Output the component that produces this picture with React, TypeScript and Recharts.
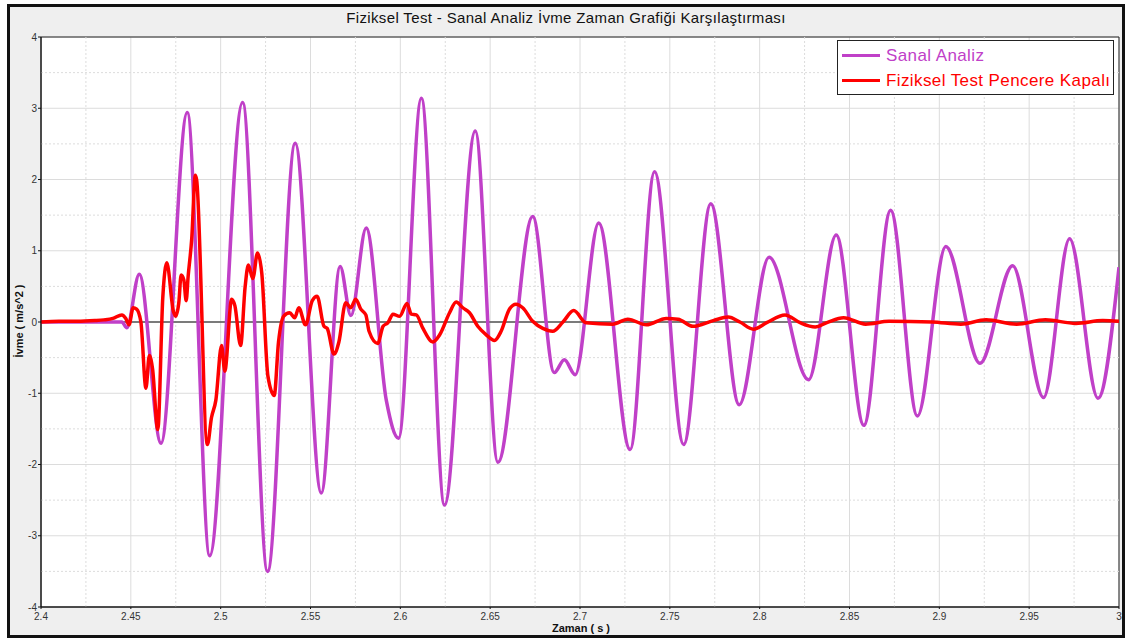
import React from 'react';
import {
  LineChart,
  Line,
  XAxis,
  YAxis,
  CartesianGrid,
  ReferenceLine,
  ReferenceArea,
} from 'recharts';

// Sanal Analiz (simulation) - time [s], acceleration [m/s^2]
const sanalTime = [
  2.4, 2.43, 2.445, 2.4478, 2.4547, 2.4668, 2.4814, 2.4939, 2.5122, 2.5261,
  2.5415, 2.556, 2.5665, 2.5725, 2.581, 2.5922, 2.599, 2.6117, 2.6246, 2.6417,
  2.6543, 2.6737, 2.6857, 2.6913, 2.6973, 2.7104, 2.7279, 2.7415, 2.7577, 2.7728,
  2.7886, 2.8052, 2.8272, 2.8426, 2.858, 2.8729, 2.8878, 2.9036, 2.9226, 2.9408,
  2.958, 2.9725, 2.9883, 3.0,
];
const sanalAccel = [
  0, 0, 0, -0.08, 0.67, -1.7, 2.94, -3.28, 3.08, -3.5,
  2.51, -2.4, 0.78, 0.09, 1.32, -1.1, -1.63, 3.14, -2.57, 2.68,
  -1.97, 1.48, -0.71, -0.53, -0.74, 1.39, -1.79, 2.11, -1.72, 1.66,
  -1.16, 0.91, -0.81, 1.22, -1.45, 1.57, -1.32, 1.06, -0.58, 0.79,
  -1.06, 1.17, -1.07, 0.77,
];

// Fiziksel Test Pencere Kapalı (physical test)
const testTime = [
  2.4, 2.41, 2.42, 2.43, 2.435, 2.44, 2.445, 2.4472, 2.449, 2.4513,
  2.4532, 2.4556, 2.4584, 2.4603, 2.4621, 2.465, 2.4678, 2.47, 2.4737, 2.4749,
  2.4767, 2.478, 2.4795, 2.4808, 2.4819, 2.4839, 2.4859, 2.4866, 2.4926, 2.4949,
  2.4973, 2.5005, 2.5023, 2.5061, 2.5079, 2.5111, 2.5136, 2.5154, 2.5179, 2.5205,
  2.5229, 2.5263, 2.5298, 2.5322, 2.535, 2.5384, 2.5412, 2.5435, 2.5472, 2.551,
  2.5537, 2.5575, 2.5593, 2.5631, 2.5658, 2.5696, 2.5724, 2.5752, 2.578, 2.5808,
  2.5826, 2.5874, 2.5904, 2.5931, 2.5959, 2.5996, 2.6037, 2.6061, 2.6089, 2.6126,
  2.6181, 2.6219, 2.6274, 2.6311, 2.6348, 2.6385, 2.6431, 2.6478, 2.6524, 2.6561,
  2.6607, 2.6644, 2.6681, 2.6737, 2.6793, 2.6848, 2.6905, 2.6965, 2.7034, 2.7182,
  2.7266, 2.7369, 2.748, 2.7546, 2.7629, 2.7741, 2.7825, 2.789, 2.7965, 2.8039,
  2.8141, 2.8225, 2.8309, 2.8374, 2.8467, 2.859, 2.872, 2.896, 2.912, 2.926,
  2.943, 2.959, 2.976, 2.991, 3.0,
];
const testAccel = [
  0, 0.01, 0.01, 0.02, 0.03, 0.05, 0.1, 0.05, -0.04, 0.2,
  0.18, 0, -0.93, -0.47, -0.66, -1.51, 0.35, 0.83, 0.15, 0.08,
  0.27, 0.66, 0.59, 0.3, 0.64, 1.17, 2.06, 2.0, -1.72, -1.34,
  -1.1, -0.33, -0.69, 0.32, 0.23, -0.33, 0.49, 0.8, 0.61, 0.97,
  0.68, -0.76, -1.03, -0.28, 0.08, 0.13, 0.06, 0.2, -0.04, 0.3,
  0.36, -0.06, -0.09, -0.45, -0.28, 0.27, 0.2, 0.32, 0.18, 0.1,
  -0.13, -0.3, -0.06, -0.01, 0.11, 0.08, 0.26, 0.11, 0.1, -0.09,
  -0.28, -0.18, 0.13, 0.28, 0.2, 0.13, -0.06, -0.18, -0.26, -0.13,
  0.18, 0.25, 0.2, 0.01, -0.09, -0.13, 0.0, 0.16, -0.01, -0.03,
  0.04, -0.04, 0.05, 0.04, -0.06, 0.02, 0.07, 0, -0.1, -0.01,
  0.1, -0.01, -0.07, -0.01, 0.06, -0.03, 0.01, 0, -0.03, 0.03,
  -0.03, 0.03, -0.02, 0.02, 0.01,
];

const xTicks = [2.4, 2.45, 2.5, 2.55, 2.6, 2.65, 2.7, 2.75, 2.8, 2.85, 2.9, 2.95, 3];
const yTicks = [-4, -3, -2, -1, 0, 1, 2, 3, 4];
const xMinor = [2.425, 2.475, 2.525, 2.575, 2.625, 2.675, 2.725, 2.775, 2.825, 2.875, 2.925, 2.975];
const yMinor = [-3.5, -2.5, -1.5, -0.5, 0.5, 1.5, 2.5, 3.5];

const sanalData = sanalTime.map((t, i) => ({ t, v: sanalAccel[i] }));
const testData = testTime.map((t, i) => ({ t, v: testAccel[i] }));

const COLORS = {
  sanal: '#c040c8',
  test: '#ff0000',
  grid: '#dcdcdc',
  zero: '#555555',
  text: '#333333',
  frame: '#efefef',
};

const FONT = '"Liberation Sans", Arial, sans-serif';

const SERIES = [
  { name: 'Sanal Analiz', color: COLORS.sanal },
  { name: 'Fiziksel Test Pencere Kapalı', color: COLORS.test },
];

function LegendBox() {
  return (
    <div
      style={{
        position: 'absolute',
        left: 827,
        top: 33,
        width: 275,
        height: 53,
        border: '1px solid #222',
        background: '#fff',
        fontFamily: FONT,
        fontSize: 17,
        letterSpacing: 0.4,
      }}
    >
      {SERIES.map((s, i) => (
        <div key={s.name} style={{ display: 'flex', alignItems: 'center', height: 25, marginTop: i === 0 ? 2 : 0 }}>
          <div style={{ width: 38, height: 3, background: s.color, marginLeft: 4, marginRight: 6 }} />
          <span style={{ color: s.color }}>{s.name}</span>
        </div>
      ))}
    </div>
  );
}

export default function App() {
  return (
    <div style={{ position: 'absolute', left: 0, top: 0, width: 1134, height: 642, background: '#fff' }}>
      <div
        style={{
          position: 'absolute',
          left: 7,
          top: 4,
          width: 1112,
          height: 628,
          border: '3px solid #111',
          background: COLORS.frame,
          fontFamily: FONT,
        }}
      >
        <div
          style={{
            position: 'absolute',
            left: 0,
            top: 2,
            width: 1112,
            textAlign: 'center',
            fontSize: 15,
            letterSpacing: 0.35,
            color: '#111',
          }}
        >
          Fiziksel Test - Sanal Analiz İvme Zaman Grafiği Karşılaştırması
        </div>
        <div
          style={{
            position: 'absolute',
            left: 9 - 60,
            top: 315 - 7,
            width: 120,
            textAlign: 'center',
            fontSize: 11,
            fontWeight: 'bold',
            color: '#111',
            transform: 'rotate(-90deg)',
          }}
        >
          İvme ( m/s^2 )
        </div>
        <div
          style={{
            position: 'absolute',
            left: 0,
            top: 615,
            width: 1112,
            paddingLeft: 30,
            boxSizing: 'border-box',
            textAlign: 'center',
            fontSize: 11,
            fontWeight: 'bold',
            color: '#111',
          }}
        >
          Zaman ( s )
        </div>
        <LineChart
          width={1112}
          height={628}
          margin={{ top: 30, right: 3, bottom: 0, left: 0 }}
          style={{ position: 'absolute', left: 0, top: 0 }}
        >
          <CartesianGrid stroke={COLORS.grid} fill="#fff" />
          {xMinor.map((x) => (
            <ReferenceLine key={`x${x}`} x={x} stroke={COLORS.grid} strokeDasharray="2 2" />
          ))}
          {yMinor.map((y) => (
            <ReferenceLine key={`y${y}`} y={y} stroke={COLORS.grid} strokeDasharray="2 2" />
          ))}
          <XAxis
            type="number"
            dataKey="t"
            domain={[2.4, 3]}
            ticks={xTicks}
            allowDataOverflow
            height={28}
            tickSize={2}
            tickMargin={4}
            tick={{ fill: COLORS.text, fontSize: 10, fontFamily: FONT }}
            tickFormatter={(v: number) => String(+v.toFixed(2))}
            axisLine={{ stroke: '#111' }}
            tickLine={{ stroke: '#111' }}
          />
          <YAxis
            type="number"
            domain={[-4, 4]}
            ticks={yTicks}
            allowDataOverflow
            width={31}
            tickSize={3}
            tickMargin={1}
            tick={{ fill: COLORS.text, fontSize: 10, fontFamily: FONT }}
            axisLine={{ stroke: '#111' }}
            tickLine={{ stroke: '#111' }}
          />
          <ReferenceLine y={0} stroke={COLORS.zero} strokeWidth={1.5} />
          <Line
            data={sanalData}
            dataKey="v"
            name="Sanal Analiz"
            type="monotone"
            stroke={COLORS.sanal}
            strokeWidth={3.5}
            dot={false}
            isAnimationActive={false}
          />
          <Line
            data={testData}
            dataKey="v"
            name="Fiziksel Test Pencere Kapalı"
            type="monotone"
            stroke={COLORS.test}
            strokeWidth={3.5}
            dot={false}
            isAnimationActive={false}
          />
          <ReferenceArea x1={2.4} x2={3} y1={-4} y2={4} fill="none" stroke="#222" strokeWidth={1} />
        </LineChart>
        <LegendBox />
      </div>
    </div>
  );
}
